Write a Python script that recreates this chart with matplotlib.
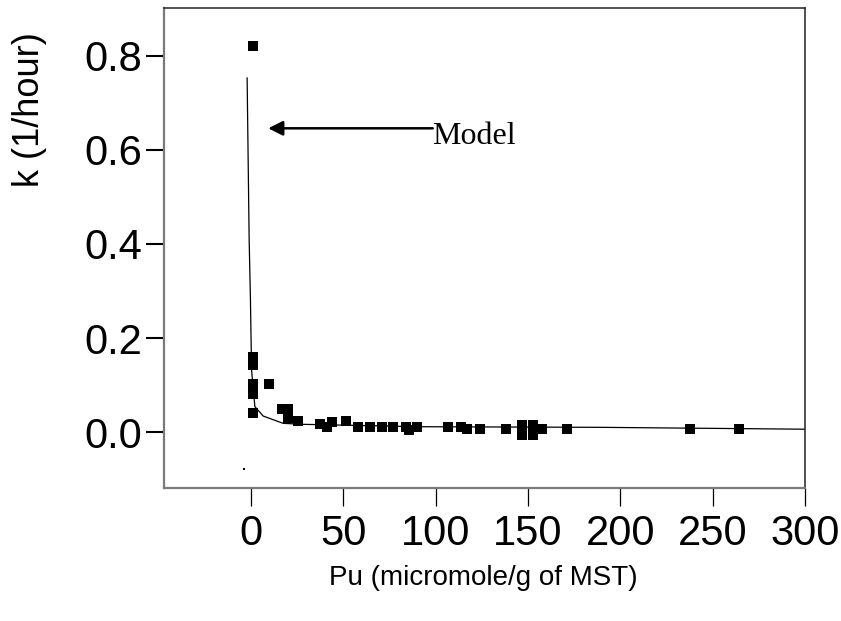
import matplotlib.pyplot as plt

plt.rcParams['font.family'] = ['Liberation Sans', 'DejaVu Sans']

# measured rate constants vs Pu loading
pu = [1.1, 1.0, 1.0, 1.0, 1.0, 9.9, 1.0, 17.0, 19.9, 20.2, 25.6,
      37.4, 41.3, 44.2, 51.6, 58.0, 64.3, 70.8, 77.0, 84.0, 85.5,
      89.7, 106.8, 113.7, 116.8, 124.0, 138.4, 146.9, 152.8, 146.9,
      152.8, 157.6, 170.9, 238.0, 264.0]
k = [0.821, 0.160, 0.143, 0.102, 0.080, 0.102, 0.040, 0.050, 0.050,
     0.029, 0.023, 0.017, 0.010, 0.022, 0.023, 0.011, 0.011, 0.011,
     0.011, 0.011, 0.004, 0.011, 0.011, 0.011, 0.006, 0.006, 0.006,
     0.016, 0.016, -0.006, -0.006, 0.006, 0.006, 0.006, 0.006]

# model curve
pu_model = [-2.0, -0.9, -0.2, 0.4, 2.2, 6.7, 17.5, 28.3, 91.5, 145.0, 189.0, 300.0]
k_model = [0.753, 0.409, 0.281, 0.132, 0.054, 0.034, 0.0185, 0.0164,
           0.0113, 0.0106, 0.010, 0.006]

# stray dot near the origin
pu_dot = [-3.8]
k_dot = [-0.079]

xticks = [0, 50, 100, 150, 200, 250, 300]
yticks = [0.0, 0.2, 0.4, 0.6, 0.8]

fig = plt.figure(figsize=(8.41, 6.21), dpi=100)
ax = fig.add_axes([0.195, 0.2142, 0.7622, 0.773])

ax.plot(pu_model, k_model, color='black', lw=0.9)
ax.plot(pu, k, 's', color='black', markersize=7.4, markeredgewidth=0)
ax.plot(pu_dot, k_dot, 's', color='black', markersize=1.6, markeredgewidth=0)

ax.annotate('', xy=(9.4, 0.646), xytext=(98.5, 0.646),
            arrowprops=dict(arrowstyle='-|>', color='black', lw=1.8,
                            mutation_scale=22, shrinkA=0, shrinkB=0))
ax.text(98.0, 0.613, 'Model', family='Liberation Serif', fontsize=23,
        ha='left', va='baseline')

ax.set_xlim(-47, 300)
ax.set_ylim(-0.119, 0.902)
ax.set_xticks(xticks)
ax.set_xticklabels([str(v) for v in xticks])
ax.set_yticks(yticks)
ax.set_yticklabels(['%.1f' % v for v in yticks])
ax.tick_params(axis='both', direction='out', length=13,
               labelsize=30, color='black')
ax.tick_params(axis='x', pad=6, width=0.9)
ax.tick_params(axis='y', pad=3, width=1.5)

for side in ['left', 'bottom']:
    ax.spines[side].set_color('#7a7a7a')
    ax.spines[side].set_linewidth(1.6)
for side in ['top', 'right']:
    ax.spines[side].set_color('#222222')
    ax.spines[side].set_linewidth(1.1)

ax.set_xlabel('Pu (micromole/g of MST)', fontsize=20)
ax.xaxis.set_label_coords(0.498, -0.16)
ax.set_ylabel('k (1/hour)', fontsize=26)
ax.yaxis.set_label_coords(-0.183, 0.7875)

plt.savefig('out.png', format='png')
